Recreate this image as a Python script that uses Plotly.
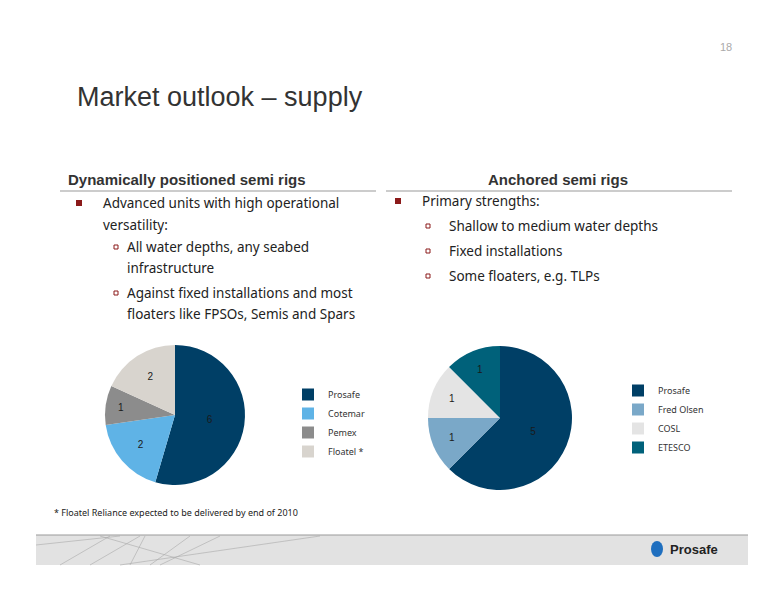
import plotly.graph_objects as go

left_labels = ["Prosafe", "Cotemar", "Pemex", "Floatel *"]
left_values = [6, 2, 1, 2]
left_colors = ["#003f66", "#5fb3e6", "#8c8c8c", "#d8d4ce"]

right_labels = ["Prosafe", "Fred Olsen", "COSL", "ETESCO"]
right_values = [5, 1, 1, 1]
right_colors = ["#003f66", "#7aa8c8", "#e4e4e4", "#00617a"]

W, H = 776, 600
OFF = 8
def px(x): return (x - OFF) / W
def py(y): return 1 - (y - OFF) / H

fig = go.Figure()
fig.add_trace(go.Pie(labels=left_labels, values=left_values, sort=False, direction="clockwise",
                     marker=dict(colors=left_colors), textinfo="value", textposition="inside",
                     insidetextfont=dict(color="#1a1a1a", size=10, family="Liberation Sans"),
                     domain=dict(x=[px(105), px(245)], y=[py(486), py(344)]), legend="legend",
                     hoverinfo="label+value"))
fig.add_trace(go.Pie(labels=[l + "\u200b" for l in right_labels], values=right_values, sort=False, direction="clockwise",
                     marker=dict(colors=right_colors), textinfo="value", textposition="inside",
                     insidetextfont=dict(color="#1a1a1a", size=10, family="Liberation Sans"),
                     domain=dict(x=[px(428), px(572)], y=[py(490), py(346)]), legend="legend2",
                     hoverinfo="label+value"))

legfont = dict(size=9, color="#333", family="Noto Sans")
fig.update_layout(
    width=W, height=H, margin=dict(l=0, r=0, t=0, b=0),
    paper_bgcolor="white", plot_bgcolor="white",
    legend=dict(x=px(288), y=py(380), xanchor="left", yanchor="top", font=legfont,
                bgcolor="rgba(0,0,0,0)", itemwidth=30, tracegroupgap=0),
    legend2=dict(x=px(618), y=py(376), xanchor="left", yanchor="top", font=legfont,
                 bgcolor="rgba(0,0,0,0)", itemwidth=30, tracegroupgap=0),
)

ann = []
def t(x, y, s, size=14, color="#333", bold=False, family="Liberation Sans", anchor="left"):
    ann.append(dict(x=px(x), y=py(y), xref="paper", yref="paper", text=("<b>%s</b>" % s) if bold else s,
                    showarrow=False, xanchor=anchor, yanchor="middle",
                    font=dict(size=size, color=color, family=family)))

t(734, 47, "18", size=11, color="#aaa", anchor="right")
t(75, 97, "Market outlook – supply", size=27, color="#333")
t(66, 180, "Dynamically positioned semi rigs", size=15, color="#333", bold=True)
t(558, 180, "Anchored semi rigs", size=15, color="#333", bold=True, anchor="center")
body = dict(size=13.5, color="#222", family="Noto Sans")
t(101, 203, "Advanced units with high operational", **body)
t(101, 225, "versatility:", **body)
t(125, 247, "All water depths, any seabed", **body)
t(125, 268, "infrastructure", **body)
t(125, 293, "Against fixed installations and most", **body)
t(125, 314, "floaters like FPSOs, Semis and Spars", **body)
t(420, 201, "Primary strengths:", **body)
t(447, 226, "Shallow to medium water depths", **body)
t(447, 251, "Fixed installations", **body)
t(447, 276, "Some floaters, e.g. TLPs", **body)
t(52, 512, "* Floatel Reliance expected to be delivered by end of 2010", size=9, color="#222", family="Noto Sans")
t(668, 549, "Prosafe", size=13, color="#222", bold=True)

def r(x0, y0, x1, y1):
    return dict(xref="paper", yref="paper", x0=px(x0), x1=px(x1), y0=py(y0), y1=py(y1))

shapes = [
    dict(type="line", line=dict(color="#999", width=1), **r(60, 191, 376, 191)),
    dict(type="line", line=dict(color="#999", width=1), **r(386, 191, 732, 191)),
    dict(type="rect", fillcolor="#e2e2e2", line=dict(width=0), **r(36, 565, 748, 535)),
    dict(type="line", line=dict(color="#999", width=1), **r(36, 535, 748, 535)),
    dict(type="circle", fillcolor="#1f6fbf", line=dict(width=0), **r(651, 557, 663, 541)),
]
for (x, y) in [(79, 203), (398, 201)]:
    shapes.append(dict(type="rect", fillcolor="#8b1a1a", line=dict(width=0), **r(x-3, y+3, x+3, y-3)))
for (x, y) in [(116, 247), (116, 293), (428, 226), (428, 251), (428, 276)]:
    shapes.append(dict(type="rect", fillcolor="white", line=dict(color="#8b1a1a", width=1), **r(x-2, y+2, x+2, y-2)))
for (x0, y0, x1, y1) in [(36, 545, 120, 536), (60, 565, 110, 536), (90, 565, 140, 536), (130, 565, 145, 536),
                         (100, 536, 200, 565), (150, 565, 190, 536), (120, 565, 320, 536), (160, 565, 220, 536)]:
    shapes.append(dict(type="line", line=dict(color="#aaa", width=0.6), **r(x0, y0, x1, y1)))
fig.update_layout(annotations=ann, shapes=shapes)
fig.write_html("out.html")
